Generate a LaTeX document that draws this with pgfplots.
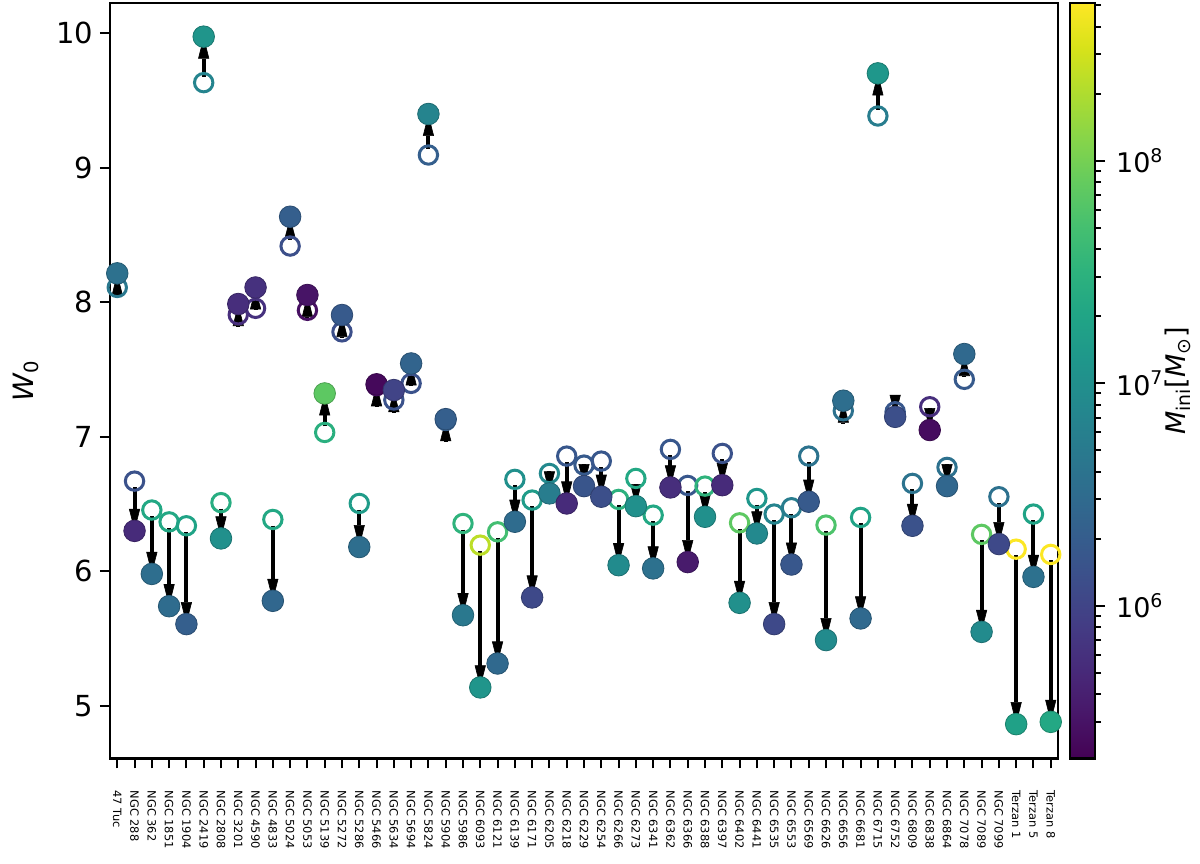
\documentclass[border=0pt]{standalone}
\usepackage{fontspec}
\setmainfont{DejaVu Sans}
\usepackage{pgfplots}
\pgfplotsset{compat=1.18}
\usepackage{pgfplotstable}
\usetikzlibrary{arrows.meta}

% i: cluster index, ini: initial W0 (open), fin: final W0 (filled)
% mini / mfin: log10 of M_ini used for colour of open / filled marker
\pgfplotstableread{
i  ini    fin    mini   mfin
0  8.110  8.215  6.671  6.569
1  6.670  6.300  6.162  5.721
2  6.455  5.980  7.350  6.535
3  6.367  5.740  7.350  6.502
4  6.338  5.607  7.282  6.332
5  9.633  9.975  6.841  7.078
6  6.510  6.244  7.418  7.011
7  7.907  7.987  5.755  5.755
8  7.955  8.110  5.789  5.789
9  6.385  5.780  7.350  6.434
10 8.418  8.636  6.128  6.332
11 7.940  8.054  5.450  5.484
12 7.032  7.322  7.452  7.859
13 7.780  7.905  6.128  6.264
14 6.504  6.180  7.180  6.535
15 7.380  7.390  5.416  5.382
16 7.273  7.347  6.162  5.993
17 7.397  7.545  6.162  6.400
18 9.095  9.400  6.332  6.841
19 7.121  7.131  6.332  6.332
20 6.355  5.673  7.519  6.671
21 6.194  5.136  8.368  7.078
22 6.293  5.314  7.689  6.468
23 6.683  6.368  7.011  6.502
24 6.529  5.805  7.180  6.060
25 6.727  6.579  6.909  6.739
26 6.856  6.504  6.230  5.721
27 6.789  6.633  6.264  6.196
28 6.819  6.554  6.230  6.128
29 6.534  6.045  7.486  6.943
30 6.690  6.484  7.350  7.011
31 6.417  6.021  7.350  6.569
32 6.906  6.623  6.230  5.755
33 6.638  6.068  6.230  5.552
34 6.633  6.405  7.519  7.011
35 6.876  6.640  6.162  5.721
36 6.360  5.765  7.859  7.011
37 6.541  6.281  7.112  6.909
38 6.425  5.607  6.841  6.060
39 6.472  6.050  6.739  6.230
40 6.856  6.517  6.603  6.264
41 6.343  5.488  7.757  6.943
42 7.193  7.268  6.569  6.535
43 6.400  5.649  7.282  6.468
44 9.385  9.702  6.739  7.112
45 7.186  7.148  6.230  6.128
46 6.653  6.338  6.603  6.162
47 7.223  7.050  5.755  5.416
48 6.772  6.633  6.569  6.434
49 7.427  7.615  6.264  6.468
50 6.274  5.549  7.859  6.943
51 6.554  6.202  6.569  6.060
52 6.164  4.863  8.700  7.248
53 6.425  5.958  7.282  6.569
54 6.125  4.880  8.700  7.350
}\data

\begin{document}
\begin{tikzpicture}
\path[use as bounding box] (-55pt,-52.35pt) rectangle (545pt,379.15pt);
\begin{axis}[
  at={(0,0)}, anchor=south west,
  scale only axis, width=474pt, height=377.5pt,
  xmin=-0.42, xmax=54.42, ymin=4.609, ymax=10.223,
  xtick pos=bottom, ytick pos=left,
  xtick={0,...,54},
  xticklabels={47 Tuc,NGC 288,NGC 362,NGC 1851,NGC 1904,NGC 2419,NGC 2808,NGC 3201,NGC 4590,NGC 4833,NGC 5024,NGC 5053,NGC 5139,NGC 5272,NGC 5286,NGC 5466,NGC 5634,NGC 5694,NGC 5824,NGC 5904,NGC 5986,NGC 6093,NGC 6121,NGC 6139,NGC 6171,NGC 6205,NGC 6218,NGC 6229,NGC 6254,NGC 6266,NGC 6273,NGC 6341,NGC 6362,NGC 6366,NGC 6388,NGC 6397,NGC 6402,NGC 6441,NGC 6535,NGC 6553,NGC 6569,NGC 6626,NGC 6656,NGC 6681,NGC 6715,NGC 6752,NGC 6809,NGC 6838,NGC 6864,NGC 7078,NGC 7089,NGC 7099,Terzan 1,Terzan 5,Terzan 8},
  xticklabel style={rotate=-90, anchor=west, font=\fontsize{5.7}{6.5}\selectfont, inner xsep=11pt, inner ysep=1pt},
  ytick={5,6,7,8,9,10},
  yticklabel style={font=\fontsize{14.5}{16}\selectfont},
  /pgf/number format/assume math mode=true,
  tick align=outside, major tick length=5pt,
  every tick/.style={line width=1pt, black},
  axis line style={line width=1.2pt},
  ylabel={\fontsize{14}{16}\selectfont\textit{W}\textsubscript{0}},
  ylabel style={yshift=2pt},
  colormap/viridis,
  point meta min=5.314, point meta max=8.707,
  colorbar,
  colorbar style={
    at={(parent axis.north east)}, anchor=north west, xshift=-2.535pt,
    width=12.5pt,
    ytick={6,7,8},
    yticklabels={10\textsuperscript{6},10\textsuperscript{7},10\textsuperscript{8}},
    minor ytick={5.4771,5.6021,5.6990,5.7782,5.8451,5.9031,5.9542,
      6.3010,6.4771,6.6021,6.6990,6.7782,6.8451,6.9031,6.9542,
      7.3010,7.4771,7.6021,7.6990,7.7782,7.8451,7.9031,7.9542,
      8.3010,8.4771,8.6021,8.6990},
    ytick pos=right, yticklabel pos=right,
    tick align=outside, major tick length=5pt, minor tick length=3pt,
    every tick/.style={line width=1pt, black},
    yticklabel style={font=\fontsize{13.5}{15}\selectfont, xshift=2pt},
    axis line style={line width=1.2pt},
    ylabel={\fontsize{13.5}{15}\selectfont\textit{M}\textsubscript{ini}[\textit{M}\textsubscript{⊙}]},
    ylabel shift=-6pt,
  },
]
\addplot[scatter, only marks, mark=o, mark size=4.6pt,
  mark options={line width=1.5pt},
  scatter src=explicit,
  scatter/use mapped color={draw=mapped color, fill=none}]
  table[x=i, y=ini, meta=mini] {\data};
\addplot[black, line width=2pt,
  -{Triangle[length=11pt, width=5.5pt, line width=0.3pt]},
  quiver={u=0,
    v={(\thisrow{fin}-\thisrow{ini})/abs(\thisrow{fin}-\thisrow{ini})*max(abs(\thisrow{fin}-\thisrow{ini})-0.045,0.164)}}]
  table[x=i, y expr={\thisrow{fin}-(\thisrow{fin}-\thisrow{ini})/abs(\thisrow{fin}-\thisrow{ini})*max(abs(\thisrow{fin}-\thisrow{ini})-0.045,0.164)}] {\data};
\addplot[scatter, only marks, mark=*, mark size=5.4pt,
  scatter src=explicit]
  table[x=i, y=fin, meta=mfin] {\data};
\end{axis}
\end{tikzpicture}
\end{document}
